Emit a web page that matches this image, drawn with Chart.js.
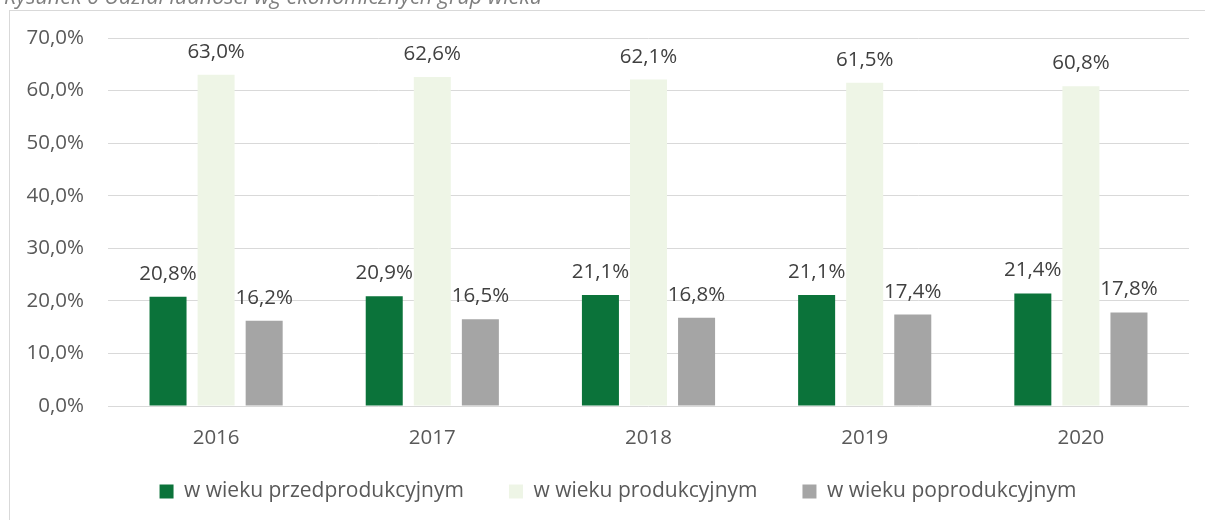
<!DOCTYPE html>
<html><head><meta charset="utf-8">
<script src="https://cdn.jsdelivr.net/npm/chart.js@4.4.1/dist/chart.umd.min.js"></script>
<style>html,body{margin:0;padding:0;background:#fff}#wrap{position:relative;width:1205px;height:520px}</style>
</head><body><div id="wrap"><canvas id="c" width="1205" height="520"></canvas></div>
<script>
const categories = ['2016', '2017', '2018', '2019', '2020'];
const seriesNames = ['w wieku przedprodukcyjnym', 'w wieku produkcyjnym', 'w wieku poprodukcyjnym'];
const preProductive = [20.8, 20.9, 21.1, 21.1, 21.4];
const productive = [63.0, 62.6, 62.1, 61.5, 60.8];
const postProductive = [16.2, 16.5, 16.8, 17.4, 17.8];
const yTicks = [0, 10, 20, 30, 40, 50, 60, 70];
const caption = 'Rysunek 6 Udział ludności wg ekonomicznych grup wieku';

const colors = ['#0b733a', '#eef5e6', '#a5a5a5'];
const fmt = v => v.toFixed(1).replace('.', ',') + '%';
const FONT = 'Open Sans';

const frame = {
  id: 'frame',
  beforeDraw(chart) {
    const ctx = chart.ctx;
    ctx.save();
    ctx.fillStyle = '#ffffff';
    ctx.fillRect(0, 0, chart.width, chart.height);
    ctx.strokeStyle = '#d9d9d9';
    ctx.lineWidth = 1;
    ctx.strokeRect(9.5, 10.5, chart.width + 10, chart.height + 10);
    ctx.font = 'italic 21.5px "' + FONT + '"';
    ctx.fillStyle = '#7f7f7f';
    ctx.textBaseline = 'alphabetic';
    ctx.textAlign = 'left';
    ctx.fillText(caption, 4, 4);
    ctx.restore();
  }
};

const legendPlace = {
  id: 'legendPlace',
  beforeLayout(chart) {
    const lg = chart.legend;
    if (lg && !lg._patched) {
      const f = lg.fit.bind(lg);
      lg.fit = function () { f(); this.height = 70; };
      lg._patched = true;
    }
  },
  afterLayout(chart) {
    const lg = chart.legend;
    if (!lg) return;
    lg.left = 47; lg.right = 1189; lg.width = lg.right - lg.left;
    lg.top = 436; lg.bottom = 516; lg.height = 80;
  }
};

const valueLabels = {
  id: 'valueLabels',
  afterDatasetsDraw(chart) {
    const ctx = chart.ctx;
    ctx.save();
    ctx.font = '20.5px "' + FONT + '"';
    ctx.fillStyle = '#404040';
    ctx.textAlign = 'center';
    ctx.textBaseline = 'alphabetic';
    chart.data.datasets.forEach((ds, di) => {
      chart.getDatasetMeta(di).data.forEach((bar, i) => {
        ctx.fillText(fmt(ds.data[i]), bar.x, bar.y - 17);
      });
    });
    ctx.restore();
  }
};

new Chart(document.getElementById('c'), {
  type: 'bar',
  data: {
    labels: categories,
    datasets: [
      { label: seriesNames[0], data: preProductive, backgroundColor: colors[0], borderWidth: 0 },
      { label: seriesNames[1], data: productive, backgroundColor: colors[1], borderWidth: 0 },
      { label: seriesNames[2], data: postProductive, backgroundColor: colors[2], borderWidth: 0 }
    ]
  },
  options: {
    responsive: false,
    animation: false,
    devicePixelRatio: 1,
    datasets: { bar: { categoryPercentage: 0.667, barPercentage: 0.77 } },
    layout: { padding: { left: 0, right: 16, top: 38, bottom: 0 } },
    plugins: {
      tooltip: { enabled: false },
      legend: {
        position: 'bottom',
        align: 'center',
        labels: {
          boxWidth: 14, boxHeight: 14, padding: 45,
          color: '#595959',
          font: { family: FONT, size: 21 }
        }
      }
    },
    scales: {
      x: {
        grid: { display: false, drawTicks: false },
        border: { display: false },
        ticks: { color: '#595959', font: { family: FONT, size: 20.5 }, padding: 20 },
        afterFit(s) { s.height = 44; }
      },
      y: {
        min: 0, max: 70,
        afterBuildTicks(s) { s.ticks = yTicks.map(v => ({ value: v })); },
        grid: { color: '#d9d9d9', lineWidth: 1, drawTicks: false },
        border: { display: false },
        ticks: { color: '#595959', font: { family: FONT, size: 20.5 }, padding: 24, callback: v => fmt(v) },
        afterFit(s) { s.width = 108; }
      }
    }
  },
  plugins: [frame, legendPlace, valueLabels]
});
</script>
</body></html>
